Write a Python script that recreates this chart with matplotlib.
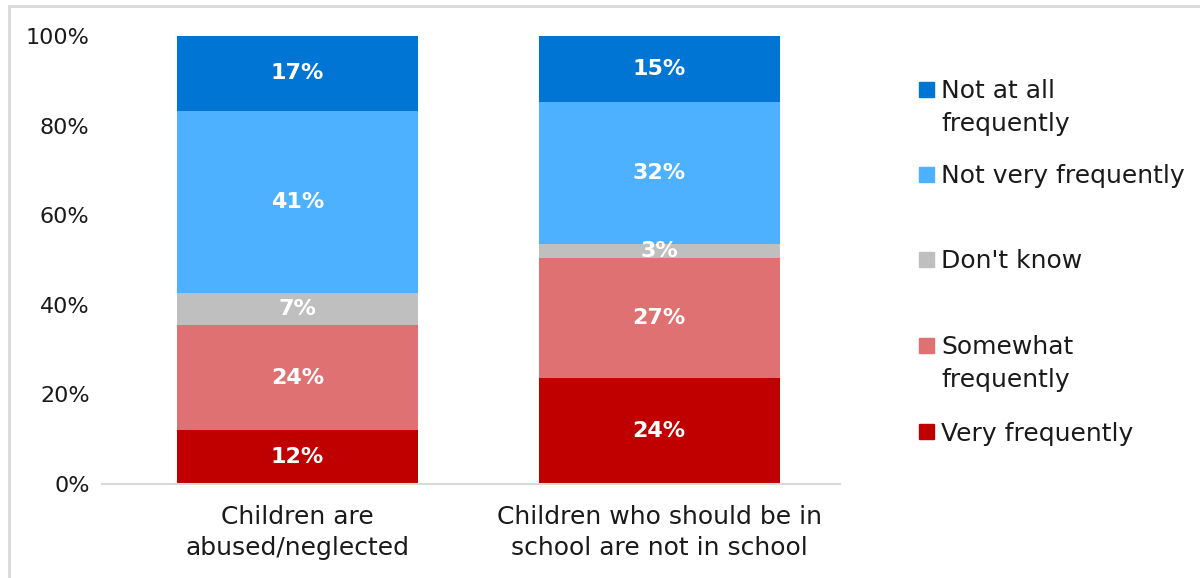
import matplotlib
matplotlib.use('Agg')
import matplotlib.pyplot as plt
from matplotlib.patches import Rectangle

plt.rcParams['font.family'] = ['DejaVu Sans']

# ---- data ----
categories = ['Children are\nabused/neglected', 'Children who should be in\nschool are not in school']
series = ['Very frequently', 'Somewhat\nfrequently', "Don't know", 'Not very frequently', 'Not at all\nfrequently']
very_freq = [12.05, 23.7]
somewhat_freq = [23.45, 26.7]
dont_know = [7.1, 3.2]
not_very_freq = [40.7, 31.7]
not_at_all = [16.7, 14.7]
labels = [['12%', '24%'], ['24%', '27%'], ['7%', '3%'], ['41%', '32%'], ['17%', '15%']]
colors = ['#C00000', '#E07173', '#BFBFBF', '#4DB1FF', '#0075D4']

values = [very_freq, somewhat_freq, dont_know, not_very_freq, not_at_all]

fig = plt.figure(figsize=(12, 5.78), dpi=100)
ax = fig.add_axes([0.085, 0.1626, 0.615, 0.7751])

x = [0, 1]
bottom = [0, 0]
for vals, lab, col in zip(values, labels, colors):
    bars = ax.bar(x, vals, width=0.667, bottom=bottom, color=col, zorder=2)
    for b, txt in zip(bars, lab):
        ax.text(b.get_x() + b.get_width() / 2, b.get_y() + b.get_height() / 2, txt,
                ha='center', va='center', color='white', fontsize=16, fontweight='bold')
    bottom = [b0 + v for b0, v in zip(bottom, vals)]

ax.set_xlim(-0.541, 1.50)
ax.set_ylim(0, 100)
ax.set_yticks([0, 20, 40, 60, 80, 100])
ax.set_yticklabels(['0%', '20%', '40%', '60%', '80%', '100%'])
ax.set_xticks(x)
ax.set_xticklabels(categories, linespacing=1.4)
ax.tick_params(axis='y', length=0, pad=9, labelsize=16, labelcolor='#1a1a1a')
ax.tick_params(axis='x', length=0, pad=15, labelsize=18, labelcolor='#1a1a1a')
for s in ['top', 'right', 'left']:
    ax.spines[s].set_visible(False)
ax.spines['bottom'].set_color('#D9D9D9')
ax.spines['bottom'].set_linewidth(1.5)

# legend, drawn by hand (top entry first)
W, H = 1200, 578
leg_y = [89, 174, 259, 345, 431]
for name, col, yy in zip(series[::-1], colors[::-1], leg_y):
    fig.patches.append(Rectangle((919 / W, 1 - (yy + 7.5) / H), 15 / W, 15 / H,
                                 transform=fig.transFigure, color=col))
    for i, line in enumerate(name.split('\n')):
        fig.text(941 / W, 1 - (yy + i * 33) / H, line, ha='left', va='center_baseline',
                 fontsize=18, color='#1a1a1a')

# outer frame
fig.patches.append(Rectangle((9 / W, -0.1), 1.2, 1.1 - 6 / H, transform=fig.transFigure,
                             fill=False, edgecolor='#D9D9D9', linewidth=2))

fig.savefig('out.png', dpi=100)
